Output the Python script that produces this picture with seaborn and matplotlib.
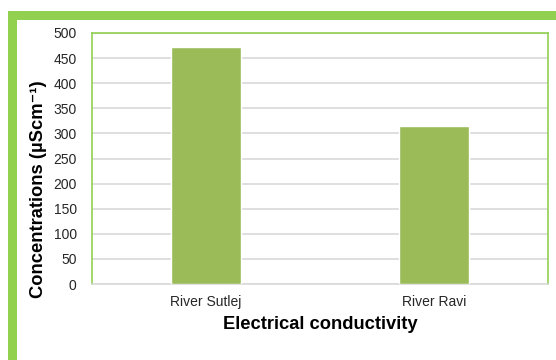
import matplotlib
matplotlib.use("Agg")
import matplotlib.pyplot as plt
from matplotlib.patches import Rectangle
import seaborn as sns
import pandas as pd

rivers = ["River Sutlej", "River Ravi"]
conductivity = [472, 314]
y_ticks = [0, 50, 100, 150, 200, 250, 300, 350, 400, 450, 500]

sns.set_theme(style="white")
plt.rcParams["font.family"] = ["Liberation Sans", "DejaVu Sans"]

df = pd.DataFrame({"river": rivers, "value": conductivity})

W, H = 556, 360
fig = plt.figure(figsize=(W / 100, H / 100), dpi=100)

# Thick green frame around the chart (open to the right and bottom)
frame_green = "#92D050"
fig.patches.append(Rectangle((8 / W, -0.5), 2.0, (H - 11) / H + 0.5,
                             transform=fig.transFigure, facecolor=frame_green,
                             edgecolor="none", zorder=-10))
fig.patches.append(Rectangle((17 / W, -0.5), 2.0, (H - 20) / H + 0.5,
                             transform=fig.transFigure, facecolor="white",
                             edgecolor="none", zorder=-9))

ax = fig.add_axes([92 / W, (H - 284) / H, (548 - 92) / W, (284 - 33) / H])
ax.set_facecolor("none")

sns.barplot(data=df, x="river", y="value", color="#9BBB59", width=0.31,
            saturation=1, ax=ax, zorder=3)

ax.set_ylim(0, 500)
ax.set_yticks(y_ticks)
ax.yaxis.grid(True, color="#D9D9D9", linewidth=1.2, zorder=0)
ax.set_axisbelow(True)
ax.tick_params(axis="both", length=0, labelsize=10, colors="#262626")
ax.tick_params(axis="y", pad=11)
ax.tick_params(axis="x", pad=8)

for side in ["left", "top", "right"]:
    ax.spines[side].set_color(frame_green)
    ax.spines[side].set_linewidth(1.2)
ax.spines["bottom"].set_color("#D9D9D9")
ax.spines["bottom"].set_linewidth(1.2)

ax.set_xlabel("Electrical conductivity", fontsize=13.2, fontweight="bold",
              color="black", labelpad=5)
ax.set_ylabel("")
fig.text(39 / W, (H - 189) / H, "Concentrations (µScm⁻¹)", rotation=90,
         ha="center", va="center", fontsize=13.2, fontweight="bold",
         color="black")

fig.savefig("out.png", dpi=100)
